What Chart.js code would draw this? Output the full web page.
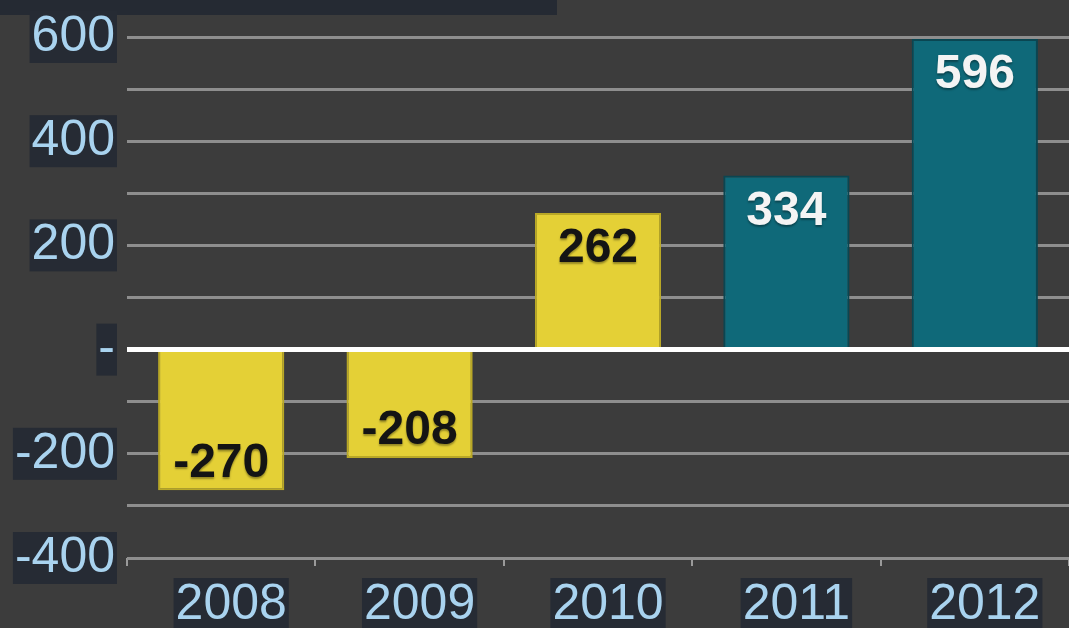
<!DOCTYPE html>
<html>
<head>
<meta charset="utf-8">
<script src="https://cdn.jsdelivr.net/npm/chart.js@4/dist/chart.umd.min.js"></script>
<style>
  html, body { margin: 0; padding: 0; background: #3c3c3c; }
  #wrap { width: 1069px; height: 628px; }
</style>
</head>
<body>
<div id="wrap"><canvas id="chart" width="1069" height="628"></canvas></div>
<script>
const years = ["2008", "2009", "2010", "2011", "2012"];
const values = [-270, -208, 262, 334, 596];
const barColors = ["#e4d036", "#e4d036", "#e4d036", "#0f6979", "#0f6979"];
const barEdges = ["#b9a826", "#b9a826", "#b9a826", "#0a4652", "#0a4652"];
const valueColors = ["#141414", "#141414", "#141414", "#f4f4f4", "#f4f4f4"];
const yTickLabels = { "600": "600", "400": "400", "200": "200", "0": "-", "-200": "-200", "-400": "-400" };

const labelBlue = "#a9d3ef";
const boxColor = "#262b34";

// fondo y la franja oscura de arriba
const backgroundPlugin = {
  id: "background",
  beforeDraw(chart) {
    const ctx = chart.ctx;
    ctx.save();
    ctx.fillStyle = "#3c3c3c";
    ctx.fillRect(0, 0, chart.width, chart.height);
    ctx.fillStyle = "#252a33";
    ctx.fillRect(0, 0, 557, 15);
    ctx.restore();
  },
};

// numeros dentro de cada barra
const valueLabels = {
  id: "valueLabels",
  afterDatasetsDraw(chart) {
    const ctx = chart.ctx;
    const meta = chart.getDatasetMeta(0);
    ctx.save();
    ctx.font = "bold 48px 'Liberation Sans', Arial, sans-serif";
    ctx.textAlign = "center";
    ctx.textBaseline = "middle";
    meta.data.forEach((bar, i) => {
      const v = values[i];
      const y = v >= 0 ? bar.y + 36 : bar.y - 27;
      ctx.shadowColor = "rgba(0,0,0,0.35)";
      ctx.shadowOffsetY = 2;
      ctx.shadowBlur = 2;
      ctx.fillStyle = valueColors[i];
      ctx.fillText(String(v), bar.x, y);
    });
    ctx.restore();
  },
};

const myChart = new Chart(document.querySelector("#chart").getContext("2d"), {
  type: "bar",
  data: {
    labels: years,
    datasets: [
      {
        data: values,
        backgroundColor: barColors,
        borderColor: barEdges,
        borderWidth: 2,
        barPercentage: 0.67,
        categoryPercentage: 1,
      },
    ],
  },
  options: {
    responsive: false,
    animation: false,
    layout: { padding: { top: 35, right: 0, left: 0, bottom: 0 } },
    plugins: {
      legend: { display: false },
      tooltip: { enabled: false },
    },
    scales: {
      x: {
        offset: true,
        grid: {
          offset: true,
          drawOnChartArea: false,
          color: "#9a9a9a",
          lineWidth: 2,
          tickLength: 8,
        },
        border: { display: false },
        ticks: {
          color: labelBlue,
          font: { family: "'Liberation Sans', Arial, sans-serif", size: 50, lineHeight: 1 },
          padding: 14,
          labelOffset: 10,
          showLabelBackdrop: true,
          backdropColor: boxColor,
          backdropPadding: { x: 2, y: 2 },
          maxRotation: 0,
        },
        afterFit(scale) {
          scale.height = 70;
        },
      },
      y: {
        min: -400,
        max: 600,
        grid: {
          drawTicks: false,
          color: (c) => (c.tick && c.tick.value === 0 ? "#ffffff" : "#8e8e8e"),
          lineWidth: (c) => (c.tick && c.tick.value === 0 ? 5 : 3),
        },
        border: { display: false },
        ticks: {
          stepSize: 100,
          autoSkip: false,
          color: labelBlue,
          font: { family: "'Liberation Sans', Arial, sans-serif", size: 50, lineHeight: 1 },
          padding: 12,
          showLabelBackdrop: true,
          backdropColor: (c) => (c.tick && yTickLabels[c.tick.value] !== undefined ? boxColor : "rgba(0,0,0,0)"),
          backdropPadding: { x: 2, y: 1 },
          callback: (v) => (yTickLabels[v] !== undefined ? yTickLabels[v] : ""),
        },
        afterFit(scale) {
          scale.width = 127;
        },
      },
    },
  },
  plugins: [backgroundPlugin, valueLabels],
});
</script>
</body>
</html>
